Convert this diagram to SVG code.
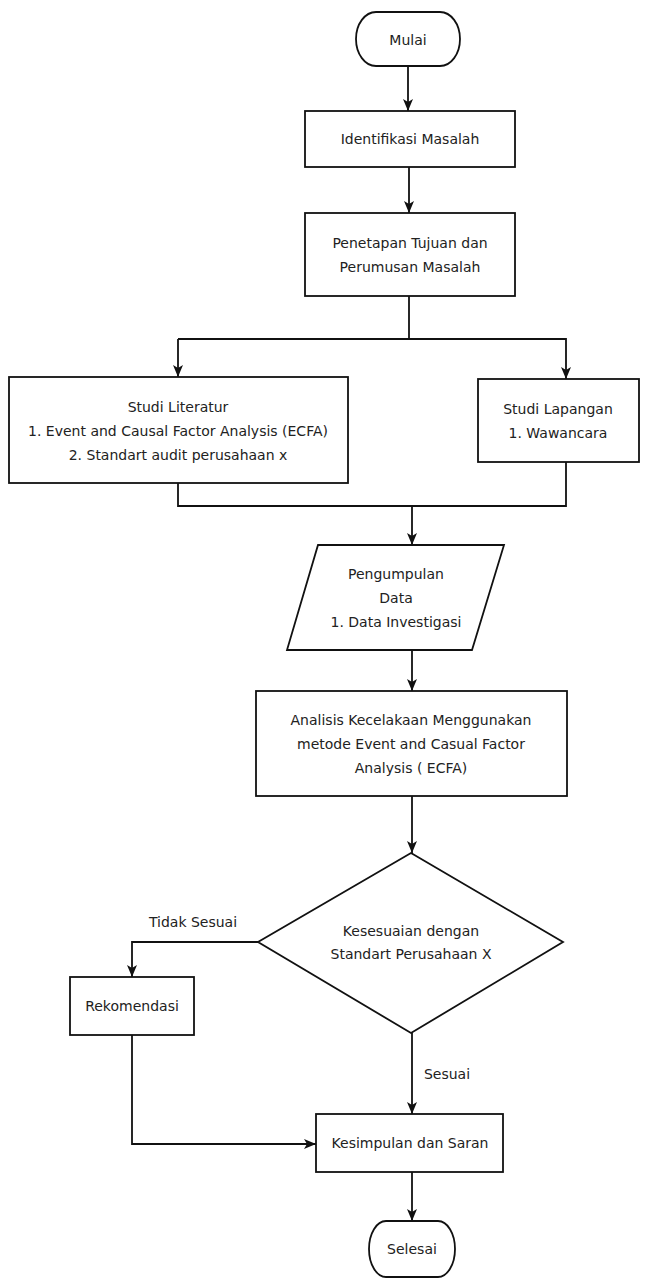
<svg xmlns="http://www.w3.org/2000/svg" width="646" height="1278" viewBox="0 0 646 1278">
<style>
  .shape { fill: #ffffff; stroke: #111111; stroke-width: 1.8; }
  .conn { fill: none; stroke: #111111; stroke-width: 1.8; }
  .lbl { font-family: "DejaVu Sans", "Liberation Sans", sans-serif; font-size: 14px; fill: #222222; text-anchor: middle; dominant-baseline: central; }
</style>
<defs>
  <marker id="arr" viewBox="0 0 12 12" refX="12" refY="6" markerWidth="12" markerHeight="12" markerUnits="userSpaceOnUse" orient="auto">
    <path d="M0,1 L12,6 L0,11 L3,6 Z" fill="#111111"/>
  </marker>
</defs>
<rect x="0" y="0" width="646" height="1278" fill="#ffffff"/>

<g id="connectors">
  <path class="conn" d="M408,66 V111" marker-end="url(#arr)"/>
  <path class="conn" d="M409,167 V213" marker-end="url(#arr)"/>
  <path class="conn" d="M409,296 V339"/>
  <path class="conn" d="M178,339 V377" marker-end="url(#arr)"/>
  <path class="conn" d="M178,339 H566 V379" marker-end="url(#arr)"/>
  <path class="conn" d="M178,483 V506 H566 V462"/>
  <path class="conn" d="M412,506 V545" marker-end="url(#arr)"/>
  <path class="conn" d="M412,650 V691" marker-end="url(#arr)"/>
  <path class="conn" d="M412,796 V853" marker-end="url(#arr)"/>
  <path class="conn" d="M258,942 H132 V977" marker-end="url(#arr)"/>
  <path class="conn" d="M132,1035 V1144 H316" marker-end="url(#arr)"/>
  <path class="conn" d="M412,1033 V1114" marker-end="url(#arr)"/>
  <path class="conn" d="M412,1172 V1221" marker-end="url(#arr)"/>
  <text class="lbl" x="193" y="922">Tidak Sesuai</text>
  <text class="lbl" x="447" y="1074">Sesuai</text>
</g>

<g id="mulai">
  <path class="shape" d="M376,12 H440 A20,27 0 0 1 440,66 H376 A20,27 0 0 1 376,12 Z"/>
  <text class="lbl" x="408" y="40">Mulai</text>
</g>

<g id="identifikasi">
  <rect class="shape" x="305" y="111" width="210" height="56"/>
  <text class="lbl" x="410" y="139">Identifikasi Masalah</text>
</g>

<g id="penetapan">
  <rect class="shape" x="305" y="213" width="210" height="83"/>
  <text class="lbl" x="410" y="243">Penetapan Tujuan dan</text>
  <text class="lbl" x="410" y="267">Perumusan Masalah</text>
</g>

<g id="studi-literatur">
  <rect class="shape" x="9" y="377" width="339" height="106"/>
  <text class="lbl" x="178" y="407">Studi Literatur</text>
  <text class="lbl" x="178" y="431">1. Event and Causal Factor Analysis (ECFA)</text>
  <text class="lbl" x="178" y="455">2. Standart audit perusahaan x</text>
</g>

<g id="studi-lapangan">
  <rect class="shape" x="478" y="379" width="161" height="83"/>
  <text class="lbl" x="558" y="409">Studi Lapangan</text>
  <text class="lbl" x="558" y="433">1. Wawancara</text>
</g>

<g id="pengumpulan">
  <polygon class="shape" points="318,545 504,545 472,650 287,650"/>
  <text class="lbl" x="396" y="574">Pengumpulan</text>
  <text class="lbl" x="396" y="598">Data</text>
  <text class="lbl" x="396" y="622">1. Data Investigasi</text>
</g>

<g id="analisis">
  <rect class="shape" x="256" y="691" width="311" height="105"/>
  <text class="lbl" x="411" y="720">Analisis Kecelakaan Menggunakan</text>
  <text class="lbl" x="411" y="744">metode Event and Casual Factor</text>
  <text class="lbl" x="411" y="768">Analysis ( ECFA)</text>
</g>

<g id="kesesuaian">
  <polygon class="shape" points="411,853 563,942 411,1033 258,942"/>
  <text class="lbl" x="411" y="931">Kesesuaian dengan</text>
  <text class="lbl" x="411" y="954">Standart Perusahaan X</text>
</g>

<g id="rekomendasi">
  <rect class="shape" x="70" y="977" width="124" height="58"/>
  <text class="lbl" x="132" y="1006">Rekomendasi</text>
</g>

<g id="kesimpulan">
  <rect class="shape" x="316" y="1114" width="187" height="58"/>
  <text class="lbl" x="410" y="1143">Kesimpulan dan Saran</text>
</g>

<g id="selesai">
  <path class="shape" d="M386,1221 H438 A17,28 0 0 1 438,1277 H386 A17,28 0 0 1 386,1221 Z"/>
  <text class="lbl" x="412" y="1249">Selesai</text>
</g>
</svg>
